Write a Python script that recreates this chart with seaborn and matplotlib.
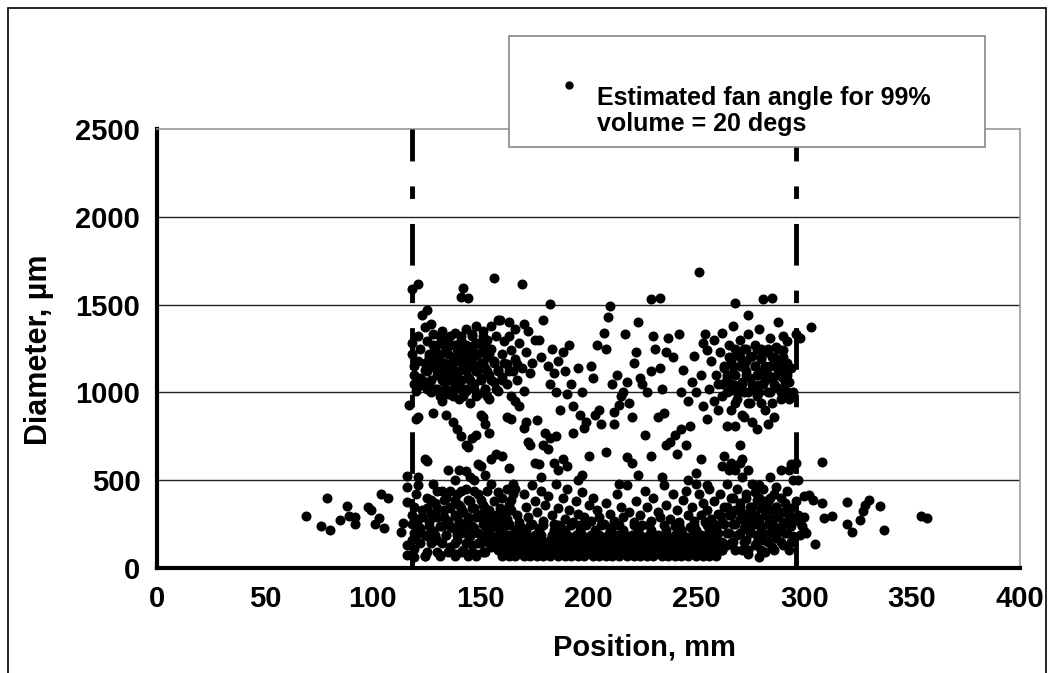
import numpy as np
import pandas as pd
import seaborn as sns
import matplotlib.pyplot as plt
from matplotlib.patches import Rectangle
from matplotlib.lines import Line2D

sns.set_style("white")
plt.rcParams['font.family'] = ['Liberation Sans', 'DejaVu Sans']
plt.rcParams['font.weight'] = 'bold'
plt.rcParams['text.color'] = 'black'
plt.rcParams['axes.labelcolor'] = 'black'
plt.rcParams['xtick.color'] = 'black'
plt.rcParams['ytick.color'] = 'black'
plt.rcParams['lines.scale_dashes'] = False

# droplets outside the fan (left / right tails)
tail_left = [(69, 296), (76, 239), (80, 216), (79, 399), (85, 273), (88, 353), (89, 296),
             (92, 290), (92, 250), (98, 347), (99, 330), (101, 250), (103, 285), (105, 228),
             (104, 421), (107, 399), (113, 205), (114, 256), (116, 131), (116, 74),
             (116, 524), (116, 461), (116, 376), (117, 930)]
tail_right = [(308, 604), (308, 370), (313, 296), (320, 376), (320, 250), (322, 205),
              (326, 273), (327, 325), (328, 359), (330, 387), (335, 353), (337, 216),
              (354, 296), (357, 285), (305, 137), (309, 285), (302, 416), (304, 387),
              (301, 199), (300, 290), (303, 1374), (296, 1333), (298, 1310)]

top_outliers = [(118, 1590), (121, 1617), (141, 1544), (142, 1594), (144, 1537), (156, 1651),
                (169, 1617), (182, 1503), (210, 1490), (229, 1530), (233, 1540), (251, 1683),
                (268, 1510), (281, 1530), (285, 1540)]

upper_left = [
    (118, 1280), (118, 1220), (119, 1150), (119, 1100), (119, 1050), (120, 1010), (121, 1320),
    (121, 1180), (122, 1080), (122, 1250), (123, 1440), (123, 1040), (124, 1370), (124, 1130),
    (125, 1470), (125, 1290), (126, 1200), (126, 1060), (127, 1390), (127, 1000), (128, 1150),
    (128, 1330), (129, 1240), (130, 1100), (130, 1020), (131, 1280), (131, 1180), (132, 1350),
    (132, 950), (133, 1120), (133, 1060), (134, 1230), (134, 1300), (135, 1160), (135, 990),
    (136, 1080), (136, 1270), (137, 1200), (137, 1130), (138, 1340), (138, 1040), (139, 1250),
    (139, 1110), (140, 1180), (140, 960), (141, 1300), (141, 1070), (142, 1220), (142, 1140),
    (143, 1010), (143, 1360), (144, 1190), (144, 1090), (145, 1260), (145, 940), (146, 1150),
    (146, 1330), (147, 1050), (147, 1210), (148, 1120), (148, 1380), (149, 990), (149, 1280),
    (150, 1170), (150, 1080), (151, 1240), (151, 1350), (152, 1020), (152, 1140), (153, 1200),
    (153, 1300), (154, 1100), (154, 960), (155, 1380), (155, 1250), (156, 1060), (156, 1180),
    (157, 1320), (158, 1130), (158, 1010), (159, 1410), (160, 1220), (160, 1090), (161, 1290),
    (162, 1160), (162, 1050), (163, 1400), (164, 1240), (164, 980), (165, 1120), (166, 1360),
    (166, 1190), (167, 1070), (168, 1280), (169, 1140), (170, 1010), (171, 1230), (172, 1350),
    (173, 1110), (174, 1170), (175, 1300), (128, 1190), (136, 1010), (144, 1150), (139, 1200),
    (146, 1240), (132, 1160), (141, 1020), (149, 1130), (135, 1110), (143, 1270), (138, 1090)]

middle_upper = [
    (121, 860), (120, 850), (128, 880), (134, 870), (137, 830), (139, 790),
    (141, 750), (143, 700), (144, 690), (146, 740), (148, 760), (150, 870), (151, 860),
    (152, 820), (154, 770), (149, 590), (150, 580), (152, 530), (155, 620), (157, 650),
    (162, 860), (164, 850), (166, 950), (168, 920), (170, 800), (171, 830), (172, 720),
    (173, 700), (175, 600), (177, 590), (178, 520), (180, 770), (182, 740), (184, 600),
    (186, 560), (177, 1300), (178, 1200), (179, 1410), (181, 1150), (182, 1050), (183, 1250),
    (184, 1110), (185, 1000), (186, 1180), (187, 900), (188, 1230), (189, 1120), (190, 990),
    (191, 1270), (192, 1050), (193, 920), (195, 1140), (196, 870), (197, 1000), (198, 800),
    (199, 830), (200, 640), (201, 1150), (202, 1080), (204, 1270), (205, 900), (207, 1340),
    (208, 1250), (209, 1430), (211, 1050), (212, 890), (213, 1100), (214, 930), (215, 980),
    (216, 1000), (217, 1330), (218, 1060), (219, 940), (220, 860), (221, 1170), (222, 1230),
    (223, 1400), (224, 1080), (225, 1050), (226, 760), (227, 1000), (229, 1120), (230, 1320),
    (231, 1250), (233, 1140), (234, 1020), (235, 880), (236, 1230), (237, 1310), (238, 720),
    (239, 1200), (240, 760), (241, 650), (242, 1330), (243, 1000), (244, 1130), (245, 700),
    (246, 950), (247, 810), (248, 1060), (249, 1210), (250, 1000), (252, 1100), (253, 920),
    (254, 1330), (255, 850), (160, 640), (163, 570), (165, 480), (176, 840), (179, 700),
    (181, 680), (185, 750), (188, 620), (190, 580), (193, 770), (195, 500), (197, 530),
    (203, 870), (206, 820), (208, 660), (212, 820), (214, 480), (218, 630), (220, 600),
    (223, 530), (229, 640), (232, 860), (234, 520), (236, 700), (243, 790), (246, 500),
    (250, 540), (252, 620), (255, 470), (167, 1160), (170, 1390), (163, 1320), (158, 1410)]

upper_right = [
    (256, 1020), (257, 1180), (258, 1300), (259, 1100), (260, 1050), (261, 1230), (262, 980),
    (262, 1340), (263, 1140), (264, 1080), (265, 1270), (265, 1010), (266, 1180), (266, 900),
    (267, 1380), (267, 1110), (268, 1040), (269, 1220), (269, 960), (270, 1300), (270, 1150),
    (271, 1060), (271, 870), (272, 1250), (272, 1000), (273, 1180), (273, 1120), (274, 1440),
    (274, 1330), (275, 1080), (275, 940), (276, 1210), (276, 1020), (277, 1150), (277, 1270),
    (278, 1100), (278, 980), (279, 1360), (279, 1040), (280, 1190), (280, 1250), (281, 1120),
    (282, 1070), (282, 900), (283, 1230), (283, 1000), (284, 1150), (284, 1310), (285, 1090),
    (286, 1200), (286, 860), (287, 1030), (287, 1260), (288, 1130), (288, 1400), (289, 960),
    (289, 1180), (290, 1080), (290, 1240), (291, 1110), (292, 1000), (292, 1170), (293, 1060),
    (294, 1140), (293, 960), (295, 1000), (283, 820), (278, 790), (276, 830), (272, 860),
    (268, 810), (264, 810), (270, 700), (271, 620), (268, 560), (274, 560), (266, 600),
    (260, 900), (258, 950), (255, 1240), (253, 1280), (290, 1320), (292, 1290)]

lower_left = [
    (118, 300), (118, 250), (119, 200), (119, 350), (119, 60), (120, 420), (121, 280),
    (122, 230), (123, 330), (124, 70), (125, 180), (125, 400), (126, 260), (127, 310),
    (128, 480), (128, 210), (129, 370), (130, 290), (130, 160), (131, 70), (132, 240),
    (132, 440), (133, 330), (134, 190), (134, 400), (135, 270), (136, 120), (136, 350),
    (137, 230), (138, 300), (138, 80), (139, 420), (139, 160), (140, 260), (140, 360),
    (141, 200), (142, 320), (142, 100), (143, 240), (143, 450), (144, 280), (144, 70),
    (145, 180), (145, 380), (146, 340), (146, 130), (147, 230), (147, 500), (148, 290),
    (148, 80), (149, 200), (149, 420), (150, 310), (150, 140), (151, 250), (151, 360),
    (152, 90), (152, 190), (153, 440), (153, 280), (154, 220), (154, 330), (155, 120),
    (155, 480), (156, 260), (156, 380), (157, 170), (157, 300), (158, 230), (158, 430),
    (159, 340), (160, 280), (160, 400), (161, 310), (162, 450), (163, 360), (164, 330),
    (165, 420), (135, 560), (138, 500), (140, 560), (143, 550), (145, 520), (124, 620),
    (125, 610), (121, 520), (121, 470), (118, 160), (119, 110), (124, 70), (131, 72),
    (138, 70), (144, 72), (148, 70)]

lower_right = [
    (250, 480), (251, 420), (252, 300), (253, 370), (254, 260), (255, 330), (256, 450),
    (257, 280), (258, 380), (259, 220), (260, 310), (261, 420), (262, 580), (262, 260),
    (263, 350), (264, 200), (264, 480), (265, 300), (266, 400), (266, 140), (267, 250),
    (267, 570), (268, 330), (269, 450), (269, 190), (270, 280), (270, 370), (271, 100),
    (271, 520), (272, 230), (272, 310), (273, 420), (273, 160), (274, 270), (274, 80),
    (275, 350), (275, 210), (276, 300), (276, 480), (277, 130), (277, 250), (278, 390),
    (278, 190), (279, 280), (279, 60), (280, 340), (280, 230), (281, 160), (281, 450),
    (282, 300), (282, 90), (283, 250), (283, 380), (284, 200), (284, 330), (285, 120),
    (285, 280), (286, 420), (286, 240), (287, 350), (287, 170), (288, 290), (289, 210),
    (289, 400), (290, 320), (290, 130), (291, 260), (291, 370), (292, 200), (292, 440),
    (293, 300), (293, 100), (294, 340), (294, 240), (295, 180), (295, 280), (296, 380),
    (297, 300), (298, 260), (299, 240), (300, 210), (295, 500), (293, 560), (294, 590),
    (296, 600), (297, 500), (300, 410), (298, 190), (263, 640), (265, 560), (279, 470),
    (284, 520), (289, 560), (270, 600), (277, 430), (282, 380), (287, 460)]

lower_middle = [
    (160, 330), (162, 280), (164, 390), (166, 450), (167, 300), (168, 260), (170, 420),
    (171, 350), (172, 290), (174, 470), (175, 380), (176, 320), (178, 440), (179, 270),
    (180, 360), (181, 410), (183, 300), (184, 250), (185, 480), (186, 340), (188, 400),
    (189, 280), (190, 450), (191, 330), (193, 260), (194, 380), (195, 310), (197, 430),
    (198, 290), (200, 360), (201, 270), (202, 400), (204, 330), (205, 290), (207, 250),
    (208, 370), (210, 310), (212, 270), (213, 420), (215, 350), (216, 290), (218, 470),
    (219, 320), (221, 260), (222, 380), (224, 300), (226, 440), (227, 350), (229, 270),
    (230, 400), (232, 320), (233, 290), (235, 470), (236, 360), (238, 280), (239, 420),
    (241, 330), (242, 260), (244, 390), (245, 440), (246, 300), (248, 350), (249, 270),
    (163, 250), (169, 230), (174, 250), (177, 230), (187, 240), (196, 245), (211, 235),
    (225, 245), (240, 240), (247, 235)]

# dense cores, written one row of diameters at a time: (diameter, [positions])
upper_left_core = [
    (980, [131, 137, 142, 148, 153]),
    (1020, [125, 129, 134, 138, 143, 147, 152, 157]),
    (1070, [123, 127, 132, 136, 141, 145, 150, 155, 160]),
    (1120, [125, 130, 134, 139, 143, 148, 153, 158, 163]),
    (1170, [124, 128, 133, 137, 142, 146, 151, 156, 161]),
    (1220, [126, 131, 135, 140, 144, 149, 154]),
    (1270, [128, 133, 138, 142, 147, 152]),
    (1320, [131, 136, 141, 146, 151]),
]
upper_right_core = [
    (940, [268, 274, 280, 285]),
    (1000, [264, 269, 274, 279, 284, 289]),
    (1050, [262, 266, 271, 276, 281, 286, 291]),
    (1100, [264, 268, 273, 278, 283, 288, 292]),
    (1150, [263, 267, 272, 277, 282, 287, 291]),
    (1200, [265, 270, 275, 280, 285, 290]),
    (1250, [268, 273, 278, 283, 288]),
]
lower_left_core = [
    (90, [125, 130, 135, 141, 146, 151]),
    (140, [122, 127, 132, 138, 143, 149, 154]),
    (190, [120, 124, 129, 134, 139, 144, 150, 155]),
    (240, [121, 126, 131, 136, 141, 146, 152, 157]),
    (290, [123, 128, 133, 139, 144, 150, 155]),
    (340, [125, 130, 136, 141, 147, 152]),
    (390, [127, 133, 138, 144, 150]),
    (440, [130, 136, 141, 147]),
]
lower_right_core = [
    (100, [262, 268, 274, 280, 286]),
    (150, [262, 267, 272, 278, 283, 289, 294]),
    (200, [260, 265, 270, 275, 281, 286, 291]),
    (250, [258, 263, 268, 273, 279, 284, 290]),
    (300, [261, 266, 271, 277, 282, 288]),
    (350, [264, 270, 276, 281, 287]),
    (400, [267, 273, 279, 284]),
]
# the solid band of small drops near the axis
band_rows = [
    (70, [160, 163, 166, 170, 173, 176, 179, 182, 186, 189, 192, 195, 198, 202, 205, 208, 211,
          214, 218, 221, 224, 227, 230, 234, 237, 240, 243, 246, 250, 253, 256, 259]),
    (100, [158, 161, 164, 168, 171, 174, 177, 181, 184, 187, 190, 194, 197, 200, 203, 206, 210,
           213, 216, 219, 222, 226, 229, 232, 235, 238, 242, 245, 248, 251, 254, 258, 262]),
    (130, [157, 160, 163, 167, 170, 173, 176, 180, 183, 186, 189, 192, 196, 199, 202, 205, 208,
           212, 215, 218, 221, 224, 228, 231, 234, 237, 240, 244, 247, 250, 253, 257, 260, 264]),
    (160, [158, 162, 165, 168, 172, 175, 178, 182, 185, 188, 191, 195, 198, 201, 204, 207, 211,
           214, 217, 220, 223, 227, 230, 233, 236, 239, 243, 246, 249, 252, 256, 259]),
    (190, [159, 163, 167, 171, 175, 178, 183, 186, 190, 194, 197, 201, 205, 209, 213, 217, 220,
           224, 228, 232, 236, 240, 244, 248, 252, 256]),
    (215, [160, 166, 171, 177, 184, 189, 196, 203, 210, 216, 223, 229, 236, 243, 250, 256]),
    (245, [158, 162, 168, 173, 179, 186, 192, 199, 206, 214, 221, 228, 235, 242, 249, 255]),
]

points = tail_left + tail_right + top_outliers + upper_left + middle_upper + upper_right \
    + lower_left + lower_right + lower_middle
for rows in [upper_left_core, upper_right_core, lower_left_core, lower_right_core, band_rows]:
    for d, xs in rows:
        points += [(x, d) for x in xs]
df = pd.DataFrame(points, columns=['position', 'diameter'])

fig = plt.figure(figsize=(10.55, 6.73), dpi=100)
ax = fig.add_axes([157 / 1055, 1 - 568 / 673, 863 / 1055, 439 / 673])

for yv in [500, 1000, 1500, 2000]:
    ax.axhline(yv, color='#222222', lw=1.0, zorder=1)

sns.scatterplot(data=df, x='position', y='diameter', color='black', s=52, linewidth=0,
                ax=ax, legend=False, zorder=3)

# fan edges
for xv in [118, 296]:
    ax.plot([xv, xv], [2500, 0], color='black', lw=3.5, linestyle=(7, (30, 18, 9, 18)),
            zorder=4, dash_capstyle='butt')

ax.set_xlim(0, 400)
ax.set_ylim(0, 2500)
ax.set_xticks(range(0, 401, 50))
ax.set_yticks(range(0, 2501, 500))
ax.tick_params(axis='both', labelsize=21, direction='out', length=8, width=2.2, color='black')
ax.tick_params(axis='x', pad=4)
ax.tick_params(axis='y', pad=4)
for lab in ax.get_xticklabels() + ax.get_yticklabels():
    lab.set_fontweight('bold')

ax.set_xlabel('Position, mm', fontsize=21, fontweight='bold')
ax.set_ylabel('Diameter, µm', fontsize=22, fontweight='bold')
ax.xaxis.set_label_coords((644 - 157) / 863, (568 - 634) / 439)
ax.yaxis.set_label_coords((54 - 157) / 863, (568 - 350) / 439)

for side in ['left', 'bottom']:
    ax.spines[side].set_color('black')
    ax.spines[side].set_linewidth(3)
for side in ['top', 'right']:
    ax.spines[side].set_color('#999999')
    ax.spines[side].set_linewidth(1.2)

# text box in the top right
box = Rectangle((509 / 1055, 1 - 147 / 673), 476 / 1055, 111 / 673, transform=fig.transFigure,
                facecolor='white', edgecolor='#888888', lw=1.2, zorder=10)
fig.add_artist(box)
fig.add_artist(Line2D([569 / 1055], [1 - 85 / 673], marker='o', ms=5, color='black',
                      transform=fig.transFigure, zorder=11))
fig.text(597 / 1055, 1 - 111 / 673, 'Estimated fan angle for 99%\nvolume = 20 degs',
         fontsize=18, fontweight='bold', ha='left', va='center', linespacing=1.15, zorder=11)

# outer frame
frame = Rectangle((8 / 1055, -0.05), 1038 / 1055, 1.05 - 8 / 673, transform=fig.transFigure,
                  facecolor='none', edgecolor='black', lw=1.2)
fig.add_artist(frame)

fig.savefig('out.png', dpi=100)
